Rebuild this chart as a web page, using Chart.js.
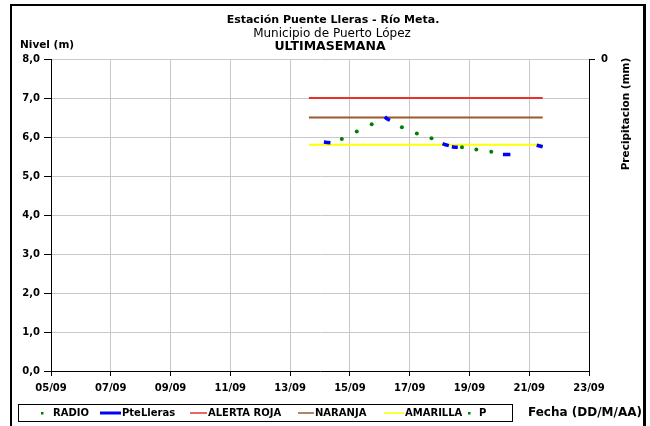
<!DOCTYPE html>
<html>
<head>
<meta charset="utf-8">
<script src="https://cdn.jsdelivr.net/npm/chart.js@4.4.0/dist/chart.umd.min.js"></script>
<style>
html, body { margin: 0; padding: 0; background: #fff; }
canvas { display: block; }
</style>
</head>
<body>
<canvas id="grafico" width="650" height="426"></canvas>
<script>
// Etiquetas del eje X (una cada 2 días, el eje cuenta días desde 05/09)
const fechas = ['05/09', '07/09', '09/09', '11/09', '13/09', '15/09', '17/09', '19/09', '21/09', '23/09'];

// RADIO (puntos verdes)
const radioDias = [9.73, 10.23, 10.73, 11.74, 12.24, 12.73, 13.75, 14.23, 14.73];
const radioNivel = [5.95, 6.14, 6.33, 6.25, 6.09, 5.97, 5.74, 5.68, 5.62];

// PteLleras (tramos azules, null corta la línea)
const pteDias = [9.13, 9.24, 9.35, 9.40, 11.17, 11.22, 11.28, 11.34, 11.40, 13.10, 13.20, 13.31, 13.36, 13.41, 13.51, 13.61, 13.70, 15.12, 15.25, 15.37, 15.45, 16.25, 16.35, 16.45];
const pteNivel = [5.87, 5.86, 5.85, null, 6.52, 6.48, 6.45, 6.43, null, 5.83, 5.80, 5.78, null, 5.75, 5.74, 5.74, null, 5.55, 5.55, 5.55, null, 5.79, 5.77, 5.75];

// Umbrales de alerta
const alertaDias = [8.63, 16.45];
const rojaNivel = [7.0, 7.0];
const naranjaNivel = [6.5, 6.5];
const amarillaNivel = [5.8, 5.8];

// Precipitación (sin datos)
const precipDias = [];
const precipMm = [];

const pares = (xs, ys) => xs.map((x, i) => ({ x: x, y: ys[i] }));

const FUENTE = '"DejaVu Sans", sans-serif';

// posiciones de la leyenda: [inicio símbolo, inicio texto]
const posLeyenda = [[42, 53], [100, 122], [190, 208], [298, 315], [384, 405], [469, 479]];

const marco = {
    id: 'marco',
    afterDraw(chart) {
        const ctx = chart.ctx;
        ctx.save();
        ctx.fillStyle = '#000';
        // borde exterior
        ctx.fillRect(10, 4, 2, 422);
        ctx.fillRect(10, 4, 636, 2);
        ctx.fillRect(643, 4, 3, 422);

        // títulos
        ctx.textAlign = 'center';
        ctx.textBaseline = 'middle';
        ctx.font = 'bold 11px ' + FUENTE;
        ctx.fillText('Estación Puente Lleras - Río Meta.', 333, 20);
        ctx.font = '12px ' + FUENTE;
        ctx.fillText('Municipio de Puerto López', 332, 34);
        ctx.font = 'bold 12.5px ' + FUENTE;
        ctx.fillText('ULTIMASEMANA', 330, 47);

        ctx.textAlign = 'left';
        ctx.font = 'bold 10.5px ' + FUENTE;
        ctx.fillText('Nivel (m)', 20, 45);

        // título del eje derecho
        ctx.save();
        ctx.translate(626, 114);
        ctx.rotate(-Math.PI / 2);
        ctx.textAlign = 'center';
        ctx.font = 'bold 10.5px ' + FUENTE;
        ctx.fillText('Precipitacion (mm)', 0, 0);
        ctx.restore();

        // leyenda
        ctx.strokeStyle = '#000';
        ctx.lineWidth = 1;
        ctx.strokeRect(18.5, 404.5, 494, 17);
        ctx.font = 'bold 10px ' + FUENTE;
        ctx.textAlign = 'left';
        chart.data.datasets.forEach((ds, i) => {
            const [sx, tx] = posLeyenda[i];
            const y = 413;
            if (ds.showLine === false) {
                ctx.fillStyle = ds.backgroundColor;
                ctx.fillRect(sx - 1, y - 1, 2.5, 2.5);
            } else {
                ctx.strokeStyle = ds.borderColor;
                ctx.lineWidth = ds.label === 'PteLleras' ? 3 : 1.5;
                ctx.beginPath();
                ctx.moveTo(sx, y);
                ctx.lineTo(tx - 1, y);
                ctx.stroke();
            }
            ctx.fillStyle = '#000';
            ctx.fillText(ds.label, tx, y);
        });

        ctx.font = 'bold 12px ' + FUENTE;
        ctx.fillText('Fecha (DD/M/AA)', 528, 413);
        ctx.restore();
    }
};

new Chart(document.getElementById('grafico'), {
    type: 'line',
    data: {
        datasets: [{
            label: 'RADIO',
            data: pares(radioDias, radioNivel),
            showLine: false,
            pointRadius: 2,
            pointBackgroundColor: '#008000',
            pointBorderWidth: 0,
            backgroundColor: '#008000',
            borderColor: '#008000'
        }, {
            label: 'PteLleras',
            data: pares(pteDias, pteNivel),
            borderColor: '#0000ff',
            borderWidth: 3.5,
            pointRadius: 0,
            spanGaps: false
        }, {
            label: 'ALERTA ROJA',
            data: pares(alertaDias, rojaNivel),
            borderColor: '#e8302c',
            borderWidth: 2,
            pointRadius: 0
        }, {
            label: 'NARANJA',
            data: pares(alertaDias, naranjaNivel),
            borderColor: '#9b5a2e',
            borderWidth: 2,
            pointRadius: 0
        }, {
            label: 'AMARILLA',
            data: pares(alertaDias, amarillaNivel),
            borderColor: '#ffff00',
            borderWidth: 2,
            pointRadius: 0
        }, {
            label: 'P',
            data: pares(precipDias, precipMm),
            showLine: false,
            pointRadius: 2,
            backgroundColor: '#008000',
            borderColor: '#008000',
            yAxisID: 'y2'
        }]
    },
    options: {
        responsive: false,
        animation: false,
        devicePixelRatio: 1,
        layout: { padding: { top: 59, left: 0, right: 0, bottom: 0 } },
        plugins: {
            legend: { display: false },
            tooltip: { enabled: false }
        },
        scales: {
            x: {
                type: 'linear',
                min: 0,
                max: 18,
                afterFit: (s) => { s.height = 55; },
                afterBuildTicks: (s) => { s.ticks = fechas.map((f, i) => ({ value: i * 2 })); },
                ticks: {
                    stepSize: 2,
                    autoSkip: false,
                    maxRotation: 0,
                    padding: 6,
                    color: '#000',
                    font: { family: FUENTE, size: 10, weight: 'bold' },
                    callback: (v) => fechas[Math.round(v / 2)]
                },
                grid: { color: '#c8c8c8', tickColor: '#000', tickLength: 5 },
                border: { color: '#000', width: 1 }
            },
            y: {
                min: 0,
                max: 8,
                afterFit: (s) => { s.width = 51; },
                ticks: {
                    stepSize: 1,
                    padding: 4,
                    color: '#000',
                    font: { family: FUENTE, size: 10, weight: 'bold' },
                    callback: (v) => v.toFixed(1).replace('.', ',')
                },
                grid: { color: '#c8c8c8', tickColor: '#000', tickLength: 7 },
                border: { color: '#000', width: 1 }
            },
            y2: {
                position: 'right',
                min: 0,
                max: 1,
                reverse: true,
                afterFit: (s) => { s.width = 61; },
                afterBuildTicks: (s) => { s.ticks = [{ value: 0 }]; },
                ticks: {
                    padding: 6,
                    color: '#000',
                    font: { family: FUENTE, size: 10, weight: 'bold' },
                    callback: (v) => String(v)
                },
                grid: { drawOnChartArea: false, tickColor: '#000', tickLength: 6 },
                border: { color: '#000', width: 1 }
            }
        }
    },
    plugins: [marco]
});
</script>
</body>
</html>
